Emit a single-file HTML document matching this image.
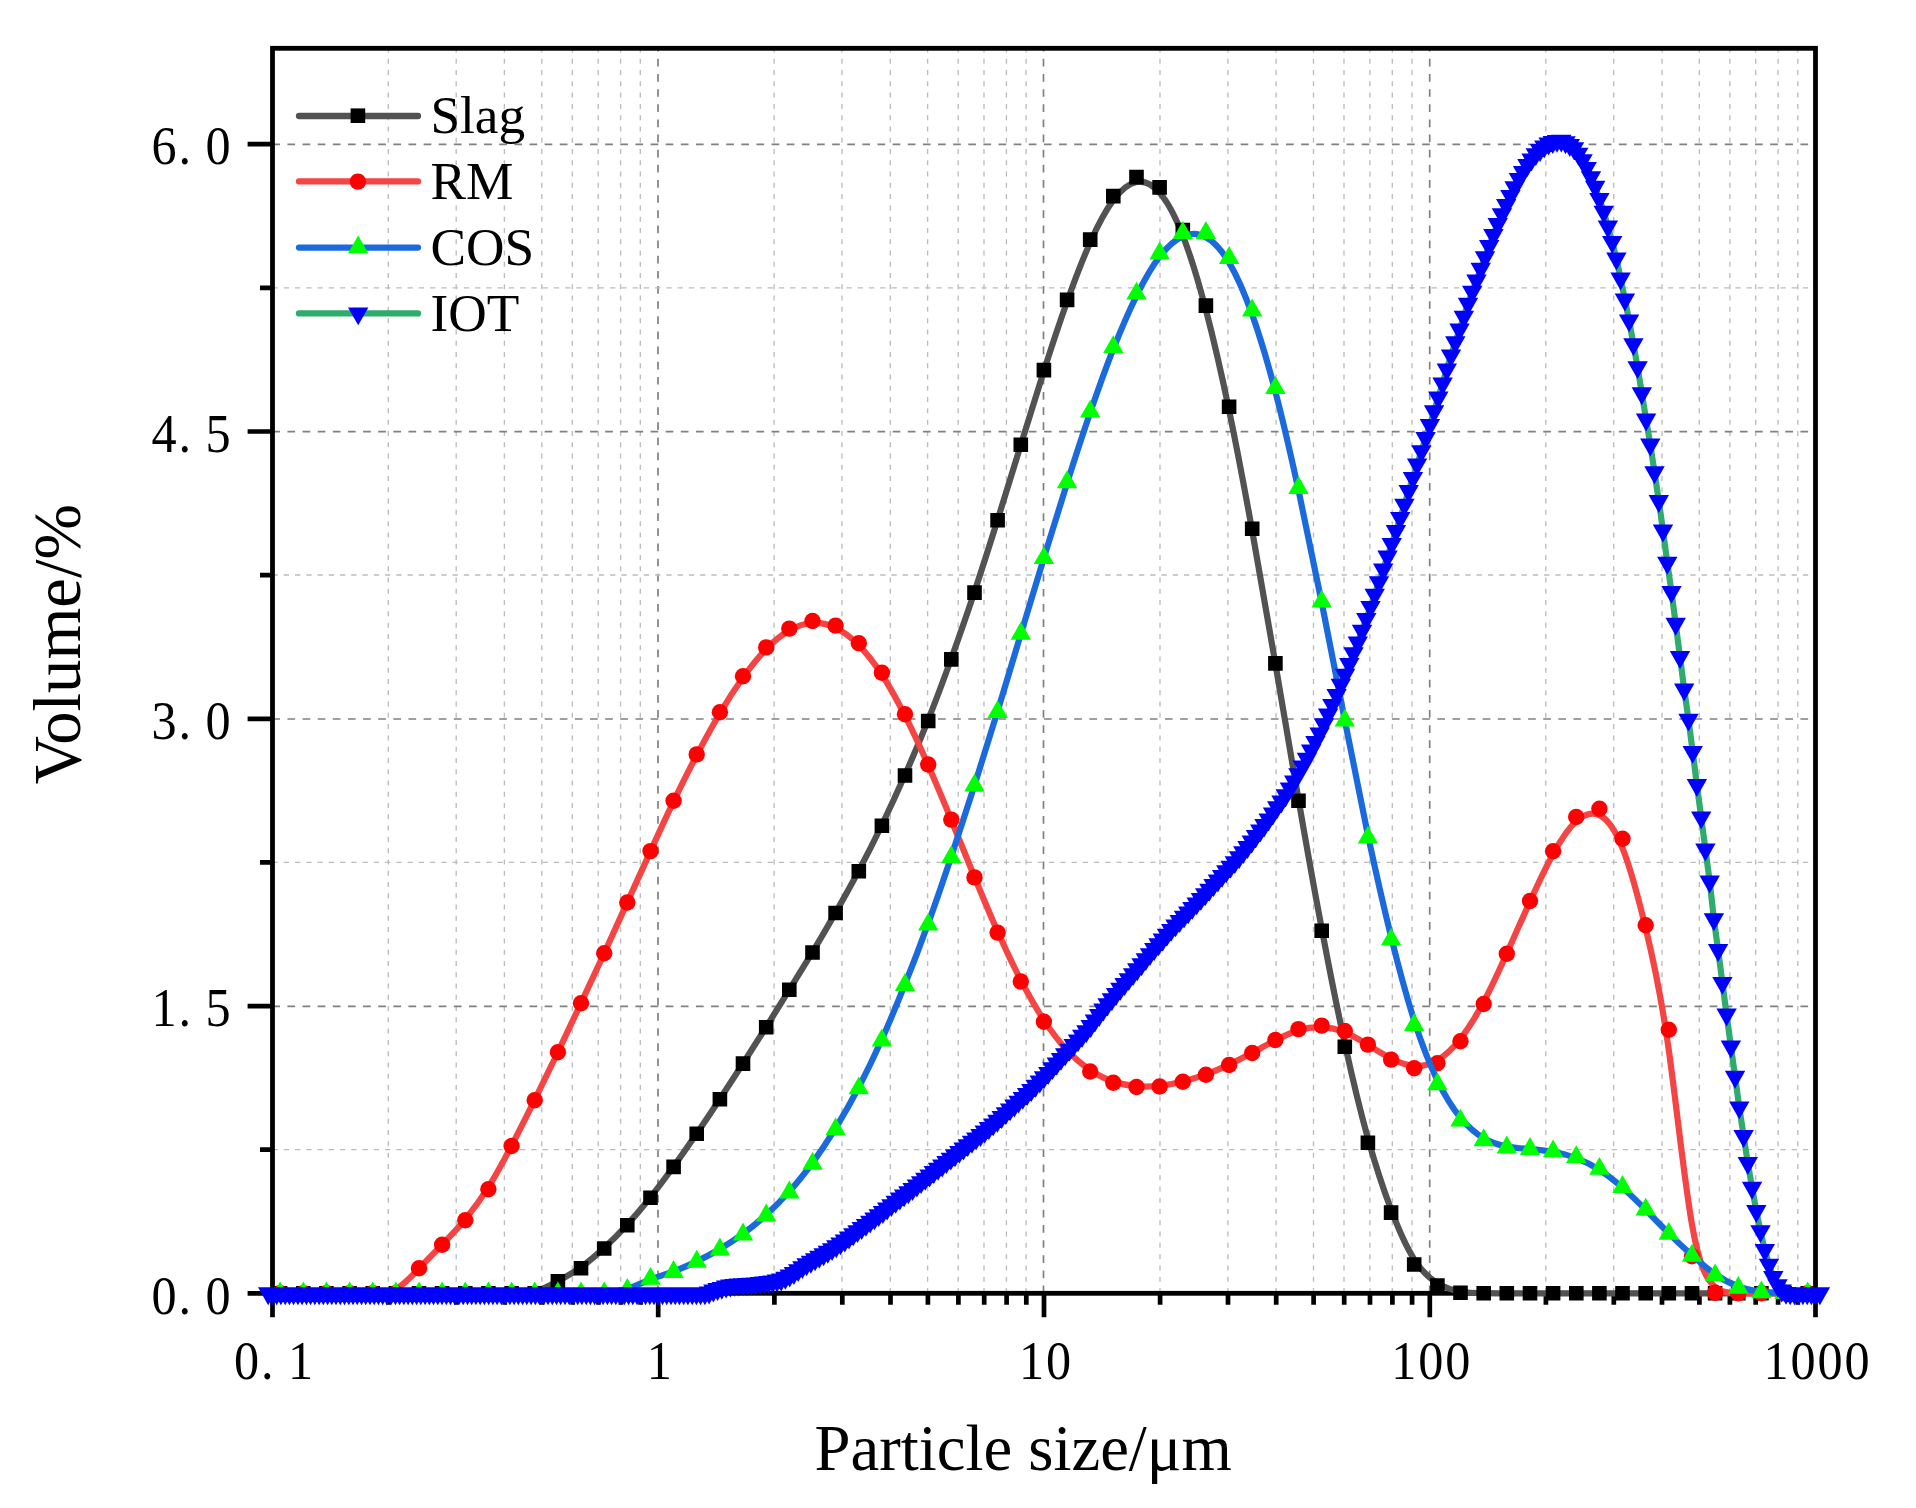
<!DOCTYPE html>
<html><head><meta charset="utf-8"><title>Particle size distribution</title>
<style>html,body{margin:0;padding:0;background:#fff}svg{display:block}text{font-family:"Liberation Serif","Times New Roman",serif;fill:#000}</style></head><body>
<svg width="1916" height="1508" viewBox="0 0 1916 1508">
<rect width="1916" height="1508" fill="#fff"/>
<g><path d="M388.3,48.3V1293.3" stroke="#bcbcbc" stroke-width="1.35" stroke-dasharray="5 6.277" stroke-dashoffset="0.8" fill="none"/><path d="M456.2,48.3V1293.3" stroke="#bcbcbc" stroke-width="1.35" stroke-dasharray="5 6.277" stroke-dashoffset="0.8" fill="none"/><path d="M504.4,48.3V1293.3" stroke="#bcbcbc" stroke-width="1.35" stroke-dasharray="5 6.277" stroke-dashoffset="0.8" fill="none"/><path d="M541.8,48.3V1293.3" stroke="#bcbcbc" stroke-width="1.35" stroke-dasharray="5 6.277" stroke-dashoffset="0.8" fill="none"/><path d="M572.3,48.3V1293.3" stroke="#bcbcbc" stroke-width="1.35" stroke-dasharray="5 6.277" stroke-dashoffset="0.8" fill="none"/><path d="M598.2,48.3V1293.3" stroke="#bcbcbc" stroke-width="1.35" stroke-dasharray="5 6.277" stroke-dashoffset="0.8" fill="none"/><path d="M620.6,48.3V1293.3" stroke="#bcbcbc" stroke-width="1.35" stroke-dasharray="5 6.277" stroke-dashoffset="0.8" fill="none"/><path d="M640.3,48.3V1293.3" stroke="#bcbcbc" stroke-width="1.35" stroke-dasharray="5 6.277" stroke-dashoffset="0.8" fill="none"/><path d="M774.1,48.3V1293.3" stroke="#bcbcbc" stroke-width="1.35" stroke-dasharray="5 6.277" stroke-dashoffset="0.8" fill="none"/><path d="M842,48.3V1293.3" stroke="#bcbcbc" stroke-width="1.35" stroke-dasharray="5 6.277" stroke-dashoffset="0.8" fill="none"/><path d="M890.3,48.3V1293.3" stroke="#bcbcbc" stroke-width="1.35" stroke-dasharray="5 6.277" stroke-dashoffset="0.8" fill="none"/><path d="M927.6,48.3V1293.3" stroke="#bcbcbc" stroke-width="1.35" stroke-dasharray="5 6.277" stroke-dashoffset="0.8" fill="none"/><path d="M958.2,48.3V1293.3" stroke="#bcbcbc" stroke-width="1.35" stroke-dasharray="5 6.277" stroke-dashoffset="0.8" fill="none"/><path d="M984,48.3V1293.3" stroke="#bcbcbc" stroke-width="1.35" stroke-dasharray="5 6.277" stroke-dashoffset="0.8" fill="none"/><path d="M1006.4,48.3V1293.3" stroke="#bcbcbc" stroke-width="1.35" stroke-dasharray="5 6.277" stroke-dashoffset="0.8" fill="none"/><path d="M1026.1,48.3V1293.3" stroke="#bcbcbc" stroke-width="1.35" stroke-dasharray="5 6.277" stroke-dashoffset="0.8" fill="none"/><path d="M1160,48.3V1293.3" stroke="#bcbcbc" stroke-width="1.35" stroke-dasharray="5 6.277" stroke-dashoffset="0.8" fill="none"/><path d="M1227.9,48.3V1293.3" stroke="#bcbcbc" stroke-width="1.35" stroke-dasharray="5 6.277" stroke-dashoffset="0.8" fill="none"/><path d="M1276.1,48.3V1293.3" stroke="#bcbcbc" stroke-width="1.35" stroke-dasharray="5 6.277" stroke-dashoffset="0.8" fill="none"/><path d="M1313.5,48.3V1293.3" stroke="#bcbcbc" stroke-width="1.35" stroke-dasharray="5 6.277" stroke-dashoffset="0.8" fill="none"/><path d="M1344,48.3V1293.3" stroke="#bcbcbc" stroke-width="1.35" stroke-dasharray="5 6.277" stroke-dashoffset="0.8" fill="none"/><path d="M1369.9,48.3V1293.3" stroke="#bcbcbc" stroke-width="1.35" stroke-dasharray="5 6.277" stroke-dashoffset="0.8" fill="none"/><path d="M1392.3,48.3V1293.3" stroke="#bcbcbc" stroke-width="1.35" stroke-dasharray="5 6.277" stroke-dashoffset="0.8" fill="none"/><path d="M1412,48.3V1293.3" stroke="#bcbcbc" stroke-width="1.35" stroke-dasharray="5 6.277" stroke-dashoffset="0.8" fill="none"/><path d="M1545.8,48.3V1293.3" stroke="#bcbcbc" stroke-width="1.35" stroke-dasharray="5 6.277" stroke-dashoffset="0.8" fill="none"/><path d="M1613.7,48.3V1293.3" stroke="#bcbcbc" stroke-width="1.35" stroke-dasharray="5 6.277" stroke-dashoffset="0.8" fill="none"/><path d="M1662,48.3V1293.3" stroke="#bcbcbc" stroke-width="1.35" stroke-dasharray="5 6.277" stroke-dashoffset="0.8" fill="none"/><path d="M1699.3,48.3V1293.3" stroke="#bcbcbc" stroke-width="1.35" stroke-dasharray="5 6.277" stroke-dashoffset="0.8" fill="none"/><path d="M1729.9,48.3V1293.3" stroke="#bcbcbc" stroke-width="1.35" stroke-dasharray="5 6.277" stroke-dashoffset="0.8" fill="none"/><path d="M1755.7,48.3V1293.3" stroke="#bcbcbc" stroke-width="1.35" stroke-dasharray="5 6.277" stroke-dashoffset="0.8" fill="none"/><path d="M1778.1,48.3V1293.3" stroke="#bcbcbc" stroke-width="1.35" stroke-dasharray="5 6.277" stroke-dashoffset="0.8" fill="none"/><path d="M1797.8,48.3V1293.3" stroke="#bcbcbc" stroke-width="1.35" stroke-dasharray="5 6.277" stroke-dashoffset="0.8" fill="none"/><path d="M658,48.3V1293.3" stroke="#808080" stroke-width="1.7" stroke-dasharray="7.7 7.445" stroke-dashoffset="4.6" fill="none"/><path d="M1043.5,48.3V1293.3" stroke="#808080" stroke-width="1.7" stroke-dasharray="7.7 7.445" stroke-dashoffset="4.6" fill="none"/><path d="M1429.7,48.3V1293.3" stroke="#808080" stroke-width="1.7" stroke-dasharray="7.7 7.445" stroke-dashoffset="4.6" fill="none"/><path d="M272.5,1149.6H1815.5" stroke="#bcbcbc" stroke-width="1.35" stroke-dasharray="5.3 5.953" fill="none"/><path d="M272.5,862.3H1815.5" stroke="#bcbcbc" stroke-width="1.35" stroke-dasharray="5.3 5.953" fill="none"/><path d="M272.5,575H1815.5" stroke="#bcbcbc" stroke-width="1.35" stroke-dasharray="5.3 5.953" fill="none"/><path d="M272.5,287.8H1815.5" stroke="#bcbcbc" stroke-width="1.35" stroke-dasharray="5.3 5.953" fill="none"/><path d="M272.3,1006.3H1815.5" stroke="#808080" stroke-width="1.7" stroke-dasharray="7.7 7.43" fill="none"/><path d="M272.3,719H1815.5" stroke="#808080" stroke-width="1.7" stroke-dasharray="7.7 7.43" fill="none"/><path d="M272.3,431.7H1815.5" stroke="#808080" stroke-width="1.7" stroke-dasharray="7.7 7.43" fill="none"/><path d="M272.3,144.4H1815.5" stroke="#808080" stroke-width="1.7" stroke-dasharray="7.7 7.43" fill="none"/></g>
<g><rect x="272.5" y="48.3" width="1543" height="1245" fill="none" stroke="#000" stroke-width="4.8"/><path d="M247.6,1293.4H272.5M247.6,1006.1H272.5M247.6,718.8H272.5M247.6,431.5H272.5M247.6,144.2H272.5M260,1149.7H272.5M260,862.4H272.5M260,575.1H272.5M260,287.9H272.5M272.5,1293.3V1317.3M658.2,1293.3V1317.3M1044,1293.3V1317.3M1429.8,1293.3V1317.3M1815.5,1293.3V1317.3M388.6,1293.3V1304.7M456.5,1293.3V1304.7M504.7,1293.3V1304.7M542.1,1293.3V1304.7M572.7,1293.3V1304.7M598.5,1293.3V1304.7M620.9,1293.3V1304.7M640.6,1293.3V1304.7M774.4,1293.3V1304.7M842.3,1293.3V1304.7M890.5,1293.3V1304.7M927.9,1293.3V1304.7M958.4,1293.3V1304.7M984.2,1293.3V1304.7M1006.6,1293.3V1304.7M1026.3,1293.3V1304.7M1160.1,1293.3V1304.7M1228,1293.3V1304.7M1276.2,1293.3V1304.7M1313.6,1293.3V1304.7M1344.2,1293.3V1304.7M1370,1293.3V1304.7M1392.4,1293.3V1304.7M1412.1,1293.3V1304.7M1545.9,1293.3V1304.7M1613.8,1293.3V1304.7M1662,1293.3V1304.7M1699.4,1293.3V1304.7M1729.9,1293.3V1304.7M1755.7,1293.3V1304.7M1778.1,1293.3V1304.7M1797.8,1293.3V1304.7" stroke="#000" stroke-width="4.7" fill="none"/></g>
<path d="M280.1,1293.3C280.1,1293.3 280.1,1293.3 284,1293.3C287.8,1293.3 295.6,1293.3 303.3,1293.3C311,1293.3 318.7,1293.3 326.4,1293.3C334.1,1293.3 341.9,1293.3 349.6,1293.3C357.3,1293.3 365,1293.3 372.7,1293.3C380.4,1293.3 388.1,1293.3 395.9,1293.3C403.6,1293.3 411.3,1293.3 419,1293.3C426.7,1293.3 434.4,1293.3 442.1,1293.3C449.9,1293.3 457.6,1293.3 465.3,1293.3C473,1293.3 480.7,1293.3 488.4,1293.3C496.1,1293.3 503.9,1293.3 511.6,1293.3C519.3,1293.3 527,1293.3 534.7,1291.3C542.4,1289.3 550.2,1285.4 557.9,1281.2C565.6,1277 573.3,1272.7 581,1267.2C588.7,1261.7 596.4,1255.1 604.2,1247.9C611.9,1240.8 619.6,1233 627.3,1224.6C635,1216.1 642.7,1207 650.5,1197.2C658.2,1187.5 665.9,1177.2 673.6,1166.5C681.3,1155.9 689,1144.8 696.7,1133.5C704.5,1122.3 712.2,1110.7 719.9,1099C727.6,1087.3 735.3,1075.5 743,1063.5C750.7,1051.5 758.5,1039.3 766.2,1027C773.9,1014.7 781.6,1002.2 789.3,989.8C797,977.3 804.7,964.9 812.5,952.1C820.2,939.3 827.9,926.2 835.6,912.6C843.3,899.1 851,885.2 858.8,870.7C866.5,856.1 874.2,841 881.9,825C889.6,809 897.3,792.3 905,774.8C912.8,757.3 920.5,739.2 928.2,719.8C935.9,700.5 943.6,679.9 951.3,658.5C959,637.1 966.8,614.9 974.5,591.7C982.2,568.5 989.9,544.4 997.6,519.8C1005.3,495.1 1013.1,470 1020.8,444.9C1028.5,419.9 1036.2,395 1043.9,370.9C1051.6,346.7 1059.3,323.3 1067.1,301.5C1074.8,279.8 1082.5,259.7 1090.2,242.4C1097.9,225.1 1105.6,210.6 1113.3,200.2C1121.1,189.8 1128.8,183.4 1136.5,182C1144.2,180.5 1151.9,184 1159.6,192.8C1167.4,201.6 1175.1,215.9 1182.8,235.6C1190.5,255.3 1198.2,280.4 1205.9,309.9C1213.6,339.3 1221.4,373.1 1229.1,410.3C1236.8,447.5 1244.5,488.1 1252.2,530.9C1259.9,573.7 1267.7,618.5 1275.4,663.8C1283.1,709.2 1290.8,754.9 1298.5,799.5C1306.2,844 1313.9,887.4 1321.7,928.4C1329.4,969.4 1337.1,1008.1 1344.8,1043.4C1352.5,1078.8 1360.2,1110.7 1367.9,1138.4C1375.7,1166 1383.4,1189.3 1391.1,1209.6C1398.8,1229.9 1406.5,1247.2 1414.2,1259.3C1422,1271.5 1429.7,1278.5 1437.4,1283.2C1445.1,1287.9 1452.8,1290.4 1460.5,1291.7C1468.2,1293 1476,1293.1 1483.7,1293.2C1491.4,1293.3 1499.1,1293.3 1506.8,1293.3C1514.5,1293.3 1522.2,1293.3 1530,1293.3C1537.7,1293.3 1545.4,1293.3 1553.1,1293.3C1560.8,1293.3 1568.5,1293.3 1576.2,1293.3C1584,1293.3 1591.7,1293.3 1599.4,1293.3C1607.1,1293.3 1614.8,1293.3 1622.5,1293.3C1630.3,1293.3 1638,1293.3 1645.7,1293.3C1653.4,1293.3 1661.1,1293.3 1668.8,1293.3C1676.5,1293.3 1684.3,1293.3 1692,1293.3C1699.7,1293.3 1707.4,1293.3 1715.1,1293.3C1722.8,1293.3 1730.5,1293.3 1738.3,1293.3C1746,1293.3 1753.7,1293.3 1761.4,1293.3C1769.1,1293.3 1776.8,1293.3 1784.6,1293.3C1792.3,1293.3 1800,1293.3 1803.8,1293.3C1807.7,1293.3 1807.7,1293.3 1807.7,1293.3" fill="none" stroke="#525252" stroke-width="6.2" stroke-linejoin="round" stroke-linecap="round"/>
<path d="M272.8,1286h14.6v14.6h-14.6zM296,1286h14.6v14.6h-14.6zM319.1,1286h14.6v14.6h-14.6zM342.3,1286h14.6v14.6h-14.6zM365.4,1286h14.6v14.6h-14.6zM388.6,1286h14.6v14.6h-14.6zM411.7,1286h14.6v14.6h-14.6zM434.8,1286h14.6v14.6h-14.6zM458,1286h14.6v14.6h-14.6zM481.1,1286h14.6v14.6h-14.6zM504.3,1286h14.6v14.6h-14.6zM527.4,1286h14.6v14.6h-14.6zM550.6,1274.1h14.6v14.6h-14.6zM573.7,1261h14.6v14.6h-14.6zM596.9,1241.2h14.6v14.6h-14.6zM620,1218h14.6v14.6h-14.6zM643.2,1190.5h14.6v14.6h-14.6zM666.3,1159.6h14.6v14.6h-14.6zM689.4,1126.5h14.6v14.6h-14.6zM712.6,1091.9h14.6v14.6h-14.6zM735.7,1056.3h14.6v14.6h-14.6zM758.9,1019.9h14.6v14.6h-14.6zM782,982.4h14.6v14.6h-14.6zM805.2,945.2h14.6v14.6h-14.6zM828.3,905.7h14.6v14.6h-14.6zM851.5,864h14.6v14.6h-14.6zM874.6,818.5h14.6v14.6h-14.6zM897.7,768.2h14.6v14.6h-14.6zM920.9,713.7h14.6v14.6h-14.6zM944,652.1h14.6v14.6h-14.6zM967.2,585.3h14.6v14.6h-14.6zM990.3,513h14.6v14.6h-14.6zM1013.5,437.5h14.6v14.6h-14.6zM1036.6,362.8h14.6v14.6h-14.6zM1059.8,292.6h14.6v14.6h-14.6zM1082.9,232.3h14.6v14.6h-14.6zM1106,188.8h14.6v14.6h-14.6zM1129.2,169.8h14.6v14.6h-14.6zM1152.3,180.1h14.6v14.6h-14.6zM1175.5,222.8h14.6v14.6h-14.6zM1198.6,298.3h14.6v14.6h-14.6zM1221.8,399.5h14.6v14.6h-14.6zM1244.9,521.5h14.6v14.6h-14.6zM1268.1,656.1h14.6v14.6h-14.6zM1291.2,793.4h14.6v14.6h-14.6zM1314.4,923.4h14.6v14.6h-14.6zM1337.5,1039.5h14.6v14.6h-14.6zM1360.6,1135.4h14.6v14.6h-14.6zM1383.8,1205.3h14.6v14.6h-14.6zM1406.9,1257.2h14.6v14.6h-14.6zM1430.1,1278.2h14.6v14.6h-14.6zM1453.2,1285.5h14.6v14.6h-14.6zM1476.4,1286h14.6v14.6h-14.6zM1499.5,1286h14.6v14.6h-14.6zM1522.7,1286h14.6v14.6h-14.6zM1545.8,1286h14.6v14.6h-14.6zM1569,1286h14.6v14.6h-14.6zM1592.1,1286h14.6v14.6h-14.6zM1615.2,1286h14.6v14.6h-14.6zM1638.4,1286h14.6v14.6h-14.6zM1661.5,1286h14.6v14.6h-14.6zM1684.7,1286h14.6v14.6h-14.6zM1707.8,1286h14.6v14.6h-14.6zM1731,1286h14.6v14.6h-14.6zM1754.1,1286h14.6v14.6h-14.6zM1777.3,1286h14.6v14.6h-14.6zM1800.4,1286h14.6v14.6h-14.6z" fill="#000"/>
<path d="M280.1,1293.3C280.1,1293.3 280.1,1293.3 284,1293.3C287.8,1293.3 295.6,1293.3 303.3,1293.3C311,1293.3 318.7,1293.3 326.4,1293.3C334.1,1293.3 341.9,1293.3 349.6,1293.3C357.3,1293.3 365,1293.3 372.7,1293.3C380.4,1293.3 388.1,1293.3 395.9,1289.1C403.6,1285 411.3,1276.6 419,1268.5C426.7,1260.4 434.4,1252.6 442.1,1244.6C449.9,1236.6 457.6,1228.4 465.3,1219.2C473,1209.9 480.7,1199.6 488.4,1187.2C496.1,1174.8 503.9,1160.4 511.6,1145.6C519.3,1130.8 527,1115.5 534.7,1099.9C542.4,1084.3 550.2,1068.2 557.9,1052.1C565.6,1035.9 573.3,1019.6 581,1003.1C588.7,986.6 596.4,970 604.2,953.2C611.9,936.4 619.6,919.4 627.3,902.4C635,885.4 642.7,868.2 650.5,851.3C658.2,834.3 665.9,817.6 673.6,801.4C681.3,785.3 689,769.9 696.7,755.1C704.5,740.3 712.2,726.3 719.9,713.2C727.6,700.2 735.3,688.3 743,677.5C750.7,666.7 758.5,657 766.2,649.1C773.9,641.1 781.6,634.9 789.3,630.5C797,626.1 804.7,623.5 812.5,623C820.2,622.5 827.9,624.1 835.6,627.8C843.3,631.5 851,637.4 858.8,645.2C866.5,653.1 874.2,662.9 881.9,674.7C889.6,686.5 897.3,700.4 905,715.7C912.8,731 920.5,747.7 928.2,765.3C935.9,782.9 943.6,801.2 951.3,820C959,838.9 966.8,858.1 974.5,877C982.2,895.8 989.9,914.2 997.6,931.5C1005.3,948.9 1013.1,965.2 1020.8,980.1C1028.5,994.9 1036.2,1008.4 1043.9,1020.1C1051.6,1031.9 1059.3,1041.9 1067.1,1050.2C1074.8,1058.5 1082.5,1065 1090.2,1070.1C1097.9,1075.2 1105.6,1079 1113.3,1081.5C1121.1,1084.1 1128.8,1085.6 1136.5,1086.2C1144.2,1086.8 1151.9,1086.7 1159.6,1085.8C1167.4,1084.9 1175.1,1083.4 1182.8,1081.4C1190.5,1079.5 1198.2,1077.1 1205.9,1074.3C1213.6,1071.5 1221.4,1068.3 1229.1,1064.6C1236.8,1061 1244.5,1057 1252.2,1052.8C1259.9,1048.7 1267.7,1044.3 1275.4,1040.3C1283.1,1036.4 1290.8,1032.7 1298.5,1030.3C1306.2,1027.9 1313.9,1026.8 1321.7,1027.1C1329.4,1027.4 1337.1,1029.2 1344.8,1032.4C1352.5,1035.5 1360.2,1040.1 1367.9,1044.8C1375.7,1049.6 1383.4,1054.6 1391.1,1058.5C1398.8,1062.5 1406.5,1065.3 1414.2,1065.9C1422,1066.5 1429.7,1064.9 1437.4,1060.4C1445.1,1055.9 1452.8,1048.6 1460.5,1038.7C1468.2,1028.9 1476,1016.4 1483.7,1001.8C1491.4,987.3 1499.1,970.5 1506.8,953.4C1514.5,936.2 1522.2,918.6 1530,901.5C1537.7,884.4 1545.4,867.9 1553.1,853.9C1560.8,839.9 1568.5,828.4 1576.2,821.3C1584,814.2 1591.7,811.5 1599.4,815.1C1607.1,818.7 1614.8,828.8 1622.5,848.2C1630.3,867.6 1638,896.4 1645.7,928.2C1653.4,960 1661.1,994.9 1668.8,1050C1676.5,1105.2 1684.3,1180.8 1692,1224.6C1699.7,1268.5 1707.4,1280.6 1715.1,1286.8C1722.8,1293 1730.5,1293.1 1738.3,1293.2C1746,1293.3 1753.7,1293.3 1761.4,1293.3C1769.1,1293.3 1776.8,1293.3 1784.6,1293.3C1792.3,1293.3 1800,1293.3 1803.8,1293.3C1807.7,1293.3 1807.7,1293.3 1807.7,1293.3" fill="none" stroke="#f44444" stroke-width="6.2" stroke-linejoin="round" stroke-linecap="round"/>
<g fill="#ff0000"><circle cx="280.1" cy="1293.3" r="8.2"/><circle cx="303.3" cy="1293.3" r="8.2"/><circle cx="326.4" cy="1293.3" r="8.2"/><circle cx="349.6" cy="1293.3" r="8.2"/><circle cx="372.7" cy="1293.3" r="8.2"/><circle cx="395.9" cy="1293.3" r="8.2"/><circle cx="419" cy="1268.3" r="8.2"/><circle cx="442.1" cy="1244.7" r="8.2"/><circle cx="465.3" cy="1220.3" r="8.2"/><circle cx="488.4" cy="1189.2" r="8.2"/><circle cx="511.6" cy="1146" r="8.2"/><circle cx="534.7" cy="1100.3" r="8.2"/><circle cx="557.9" cy="1052.2" r="8.2"/><circle cx="581" cy="1003.3" r="8.2"/><circle cx="604.2" cy="953.3" r="8.2"/><circle cx="627.3" cy="902.5" r="8.2"/><circle cx="650.5" cy="851.1" r="8.2"/><circle cx="673.6" cy="800.8" r="8.2"/><circle cx="696.7" cy="754.4" r="8.2"/><circle cx="719.9" cy="712.2" r="8.2"/><circle cx="743" cy="676.3" r="8.2"/><circle cx="766.2" cy="647.4" r="8.2"/><circle cx="789.3" cy="628.6" r="8.2"/><circle cx="812.5" cy="621" r="8.2"/><circle cx="835.6" cy="625.6" r="8.2"/><circle cx="858.8" cy="643.3" r="8.2"/><circle cx="881.9" cy="672.7" r="8.2"/><circle cx="905" cy="714.2" r="8.2"/><circle cx="928.2" cy="764.5" r="8.2"/><circle cx="951.3" cy="819.6" r="8.2"/><circle cx="974.5" cy="877.4" r="8.2"/><circle cx="997.6" cy="932.6" r="8.2"/><circle cx="1020.8" cy="981.5" r="8.2"/><circle cx="1043.9" cy="1021.8" r="8.2"/><circle cx="1067.1" cy="1052" r="8.2"/><circle cx="1090.2" cy="1071.5" r="8.2"/><circle cx="1113.3" cy="1082.7" r="8.2"/><circle cx="1136.5" cy="1087" r="8.2"/><circle cx="1159.6" cy="1086.5" r="8.2"/><circle cx="1182.8" cy="1081.8" r="8.2"/><circle cx="1205.9" cy="1074.8" r="8.2"/><circle cx="1229.1" cy="1065" r="8.2"/><circle cx="1252.2" cy="1053" r="8.2"/><circle cx="1275.4" cy="1040" r="8.2"/><circle cx="1298.5" cy="1029.1" r="8.2"/><circle cx="1321.7" cy="1025.6" r="8.2"/><circle cx="1344.8" cy="1031" r="8.2"/><circle cx="1367.9" cy="1044.6" r="8.2"/><circle cx="1391.1" cy="1059.6" r="8.2"/><circle cx="1414.2" cy="1068.2" r="8.2"/><circle cx="1437.4" cy="1063.2" r="8.2"/><circle cx="1460.5" cy="1041.3" r="8.2"/><circle cx="1483.7" cy="1004" r="8.2"/><circle cx="1506.8" cy="953.8" r="8.2"/><circle cx="1530" cy="901" r="8.2"/><circle cx="1553.1" cy="851.3" r="8.2"/><circle cx="1576.2" cy="817" r="8.2"/><circle cx="1599.4" cy="808.7" r="8.2"/><circle cx="1622.5" cy="838.8" r="8.2"/><circle cx="1645.7" cy="925.2" r="8.2"/><circle cx="1668.8" cy="1029.7" r="8.2"/><circle cx="1692" cy="1256.3" r="8.2"/><circle cx="1715.1" cy="1292.8" r="8.2"/><circle cx="1738.3" cy="1293.3" r="8.2"/><circle cx="1761.4" cy="1293.3" r="8.2"/><circle cx="1784.6" cy="1293.3" r="8.2"/><circle cx="1807.7" cy="1293.3" r="8.2"/></g>
<path d="M280.1,1293.3C280.1,1293.3 280.1,1293.3 284,1293.3C287.8,1293.3 295.6,1293.3 303.3,1293.3C311,1293.3 318.7,1293.3 326.4,1293.3C334.1,1293.3 341.9,1293.3 349.6,1293.3C357.3,1293.3 365,1293.3 372.7,1293.3C380.4,1293.3 388.1,1293.3 395.9,1293.3C403.6,1293.3 411.3,1293.3 419,1293.3C426.7,1293.3 434.4,1293.3 442.1,1293.3C449.9,1293.3 457.6,1293.3 465.3,1293.3C473,1293.3 480.7,1293.3 488.4,1293.3C496.1,1293.3 503.9,1293.3 511.6,1293.3C519.3,1293.3 527,1293.3 534.7,1293.3C542.4,1293.3 550.2,1293.3 557.9,1293.3C565.6,1293.3 573.3,1293.3 581,1293.3C588.7,1293.3 596.4,1293.3 604.2,1292.8C611.9,1292.2 619.6,1291.1 627.3,1288.7C635,1286.3 642.7,1282.5 650.5,1279.5C658.2,1276.5 665.9,1274.3 673.6,1271.4C681.3,1268.6 689,1265.1 696.7,1261.4C704.5,1257.6 712.2,1253.6 719.9,1249C727.6,1244.5 735.3,1239.5 743,1233.8C750.7,1228.2 758.5,1221.8 766.2,1214.8C773.9,1207.8 781.6,1200.1 789.3,1191.5C797,1182.9 804.7,1173.3 812.5,1162.8C820.2,1152.3 827.9,1140.8 835.6,1128.2C843.3,1115.6 851,1102 858.8,1087.2C866.5,1072.4 874.2,1056.4 881.9,1039.2C889.6,1022 897.3,1003.5 905,984.2C912.8,964.9 920.5,944.7 928.2,923.4C935.9,902.1 943.6,879.7 951.3,856.5C959,833.3 966.8,809.4 974.5,785.2C982.2,761 989.9,736.5 997.6,711.2C1005.3,685.9 1013.1,659.8 1020.8,634.1C1028.5,608.5 1036.2,583.3 1043.9,558C1051.6,532.8 1059.3,507.5 1067.1,483.1C1074.8,458.7 1082.5,435.1 1090.2,412.6C1097.9,390.1 1105.6,368.6 1113.3,348.9C1121.1,329.3 1128.8,311.4 1136.5,295.8C1144.2,280.2 1151.9,266.8 1159.6,256.7C1167.4,246.6 1175.1,239.8 1182.8,236.4C1190.5,233 1198.2,233 1205.9,237.2C1213.6,241.3 1221.4,249.7 1229.1,262.6C1236.8,275.5 1244.5,293 1252.2,314.6C1259.9,336.3 1267.7,362.1 1275.4,391.7C1283.1,421.3 1290.8,454.6 1298.5,490.2C1306.2,525.9 1313.9,563.7 1321.7,602.5C1329.4,641.3 1337.1,680.9 1344.8,720.3C1352.5,759.6 1360.2,798.6 1367.9,835.1C1375.7,871.6 1383.4,905.6 1391.1,936.8C1398.8,968.1 1406.5,996.5 1414.2,1020.6C1422,1044.7 1429.7,1064.5 1437.4,1080.4C1445.1,1096.3 1452.8,1108.5 1460.5,1117.8C1468.2,1127.1 1476,1133.7 1483.7,1138.2C1491.4,1142.6 1499.1,1145.1 1506.8,1146.5C1514.5,1148 1522.2,1148.4 1530,1149.1C1537.7,1149.7 1545.4,1150.5 1553.1,1151.9C1560.8,1153.2 1568.5,1155.2 1576.2,1158.1C1584,1161 1591.7,1164.9 1599.4,1169.9C1607.1,1174.8 1614.8,1180.9 1622.5,1187.7C1630.3,1194.5 1638,1202 1645.7,1209.8C1653.4,1217.7 1661.1,1225.7 1668.8,1233.4C1676.5,1241.1 1684.3,1248.4 1692,1255.3C1699.7,1262.2 1707.4,1268.8 1715.1,1274.1C1722.8,1279.5 1730.5,1283.6 1738.3,1286.5C1746,1289.3 1753.7,1290.8 1761.4,1291.7C1769.1,1292.5 1776.8,1292.8 1784.6,1292.9C1792.3,1293.1 1800,1293.2 1803.8,1293.2C1807.7,1293.3 1807.7,1293.3 1807.7,1293.3" fill="none" stroke="#1a6ade" stroke-width="6.2" stroke-linejoin="round" stroke-linecap="round"/>
<path d="M280.1,1281.4L290.3,1299.3L269.9,1299.3zM303.3,1281.4L313.5,1299.3L293.1,1299.3zM326.4,1281.4L336.6,1299.3L316.2,1299.3zM349.6,1281.4L359.8,1299.3L339.4,1299.3zM372.7,1281.4L382.9,1299.3L362.5,1299.3zM395.9,1281.4L406.1,1299.3L385.7,1299.3zM419,1281.4L429.2,1299.3L408.8,1299.3zM442.1,1281.4L452.3,1299.3L431.9,1299.3zM465.3,1281.4L475.5,1299.3L455.1,1299.3zM488.4,1281.4L498.6,1299.3L478.2,1299.3zM511.6,1281.4L521.8,1299.3L501.4,1299.3zM534.7,1281.4L544.9,1299.3L524.5,1299.3zM557.9,1281.4L568.1,1299.3L547.7,1299.3zM581,1281.4L591.2,1299.3L570.8,1299.3zM604.2,1281.4L614.4,1299.3L594,1299.3zM627.3,1278.1L637.5,1296L617.1,1296zM650.5,1266.9L660.7,1284.8L640.2,1284.8zM673.6,1260.1L683.8,1278L663.4,1278zM696.7,1249.8L706.9,1267.7L686.5,1267.7zM719.9,1237.6L730.1,1255.5L709.7,1255.5zM743,1222.6L753.2,1240.5L732.8,1240.5zM766.2,1203.6L776.4,1221.5L756,1221.5zM789.3,1180.5L799.5,1198.4L779.1,1198.4zM812.5,1151.9L822.7,1169.8L802.3,1169.8zM835.6,1117.4L845.8,1135.3L825.4,1135.3zM858.8,1076.4L869,1094.3L848.6,1094.3zM881.9,1028.6L892.1,1046.5L871.7,1046.5zM905,973.1L915.2,991L894.8,991zM928.2,912.7L938.4,930.6L918,930.6zM951.3,845.3L961.5,863.2L941.1,863.2zM974.5,773.6L984.7,791.5L964.3,791.5zM997.6,700.1L1007.8,718L987.4,718zM1020.8,621.8L1031,639.7L1010.6,639.7zM1043.9,546.2L1054.1,564.1L1033.7,564.1zM1067.1,470.3L1077.3,488.2L1056.9,488.2zM1090.2,399.7L1100.4,417.6L1080,417.6zM1113.3,335.2L1123.5,353.1L1103.1,353.1zM1136.5,281.7L1146.7,299.6L1126.3,299.6zM1159.6,241.5L1169.8,259.4L1149.4,259.4zM1182.8,221.1L1193,239L1172.6,239zM1205.9,221.1L1216.1,239L1195.7,239zM1229.1,246.1L1239.3,264L1218.9,264zM1252.2,298.6L1262.4,316.5L1242,316.5zM1275.4,376L1285.6,393.9L1265.2,393.9zM1298.5,476.1L1308.7,494L1288.3,494zM1321.7,589.7L1331.9,607.6L1311.5,607.6zM1344.8,708.7L1355,726.6L1334.6,726.6zM1367.9,825.7L1378.1,843.6L1357.7,843.6zM1391.1,927.7L1401.3,945.6L1380.9,945.6zM1414.2,1013.1L1424.4,1031L1404,1031zM1437.4,1072.3L1447.6,1090.2L1427.2,1090.2zM1460.5,1108.7L1470.7,1126.6L1450.3,1126.6zM1483.7,1128.3L1493.9,1146.2L1473.5,1146.2zM1506.8,1135.6L1517,1153.5L1496.6,1153.5zM1530,1137L1540.2,1154.9L1519.8,1154.9zM1553.1,1139.4L1563.3,1157.3L1542.9,1157.3zM1576.2,1145.2L1586.5,1163.1L1566,1163.1zM1599.4,1156.9L1609.6,1174.8L1589.2,1174.8zM1622.5,1175L1632.7,1192.9L1612.3,1192.9zM1645.7,1197.7L1655.9,1215.6L1635.5,1215.6zM1668.8,1221.9L1679,1239.8L1658.6,1239.8zM1692,1243.8L1702.2,1261.7L1681.8,1261.7zM1715.1,1263.4L1725.3,1281.3L1704.9,1281.3zM1738.3,1275.9L1748.5,1293.8L1728.1,1293.8zM1761.4,1280.4L1771.6,1298.3L1751.2,1298.3zM1784.6,1281.1L1794.8,1299L1774.4,1299zM1807.7,1281.4L1817.9,1299.3L1797.5,1299.3z" fill="#00ff00"/>
<path d="M268.2,1293.3L272.4,1293.3L276.7,1293.3L280.9,1293.3L285.2,1293.3L289.4,1293.3L293.6,1293.3L297.9,1293.3L302.1,1293.3L306.4,1293.3L310.6,1293.3L314.8,1293.3L319.1,1293.3L323.3,1293.3L327.6,1293.3L331.8,1293.3L336,1293.3L340.3,1293.3L344.5,1293.3L348.8,1293.3L353,1293.3L357.2,1293.3L361.5,1293.3L365.7,1293.3L370,1293.3L374.2,1293.3L378.4,1293.3L382.7,1293.3L386.9,1293.3L391.1,1293.3L395.4,1293.3L399.6,1293.3L403.9,1293.3L408.1,1293.3L412.3,1293.3L416.6,1293.3L420.8,1293.3L425.1,1293.3L429.3,1293.3L433.5,1293.3L437.8,1293.3L442,1293.3L446.3,1293.3L450.5,1293.3L454.7,1293.3L459,1293.3L463.2,1293.3L467.5,1293.3L471.7,1293.3L475.9,1293.3L480.2,1293.3L484.4,1293.3L488.7,1293.3L492.9,1293.3L497.1,1293.3L501.4,1293.3L505.6,1293.3L509.9,1293.3L514.1,1293.3L518.3,1293.3L522.6,1293.3L526.8,1293.3L531.1,1293.3L535.3,1293.3L539.5,1293.3L543.8,1293.3L548,1293.3L552.3,1293.3L556.5,1293.3L560.7,1293.3L565,1293.3L569.2,1293.3L573.5,1293.3L577.7,1293.3L581.9,1293.3L586.2,1293.3L590.4,1293.3L594.6,1293.3L598.9,1293.3L603.1,1293.3L607.4,1293.3L611.6,1293.3L615.8,1293.3L620.1,1293.3L624.3,1293.3L628.6,1293.3L632.8,1293.3L637,1293.3L641.3,1293.3L645.5,1293.3L649.8,1293.3L654,1293.3L658.2,1293.3L662.5,1293.3L666.7,1293.3L671,1293.3L675.2,1293.3L679.4,1293.3L683.7,1293.3L687.9,1293.3L692.2,1293.3L696.4,1293.3L700.6,1293.3L704.9,1293.2L709.1,1292.5L713.4,1290.5L717.6,1289L721.8,1287.8L726.1,1286.6L730.3,1285.5L734.6,1284.8L738.8,1284.5L743,1284.3L747.3,1283.9L751.5,1283.6L755.8,1283.4L760,1282.9L764.2,1282.4L768.5,1281.9L772.7,1281.3L777,1280.6L781.2,1279.6L785.4,1277.8L789.7,1275.6L793.9,1273L798.2,1270.1L802.4,1267.2L806.6,1264.2L810.9,1261.7L815.1,1259.2L819.3,1256.8L823.6,1254.3L827.8,1251.8L832.1,1249.2L836.3,1246.3L840.5,1243.4L844.8,1240.4L849,1237.4L853.3,1234.3L857.5,1231.1L861.7,1228L866,1224.8L870.2,1221.6L874.5,1218.4L878.7,1215.2L882.9,1211.9L887.2,1208.5L891.4,1205.2L895.7,1201.8L899.9,1198.5L904.1,1195.3L908.4,1192.2L912.6,1189L916.9,1185.6L921.1,1182.2L925.3,1178.8L929.6,1175.4L933.8,1172.1L938.1,1168.8L942.3,1165.4L946.5,1162.1L950.8,1158.7L955,1155.3L959.3,1151.9L963.5,1148.5L967.7,1145.1L972,1141.8L976.2,1138.4L980.5,1135L984.7,1131.4L988.9,1127.9L993.2,1124.4L997.4,1120.8L1001.7,1117L1005.9,1113.2L1010.1,1109.4L1014.4,1105.5L1018.6,1101.7L1022.8,1097.8L1027.1,1094L1031.3,1090L1035.6,1085.7L1039.8,1081.5L1044,1077.3L1048.3,1072.8L1052.5,1068.2L1056.8,1063.5L1061,1058.9L1065.2,1054.3L1069.5,1049.6L1073.7,1045L1078,1040.3L1082.2,1035.7L1086.4,1031.1L1090.7,1026.1L1094.9,1020.6L1099.2,1015L1103.4,1009.5L1107.6,1004.3L1111.9,999.2L1116.1,994L1120.4,988.8L1124.6,984L1128.8,979.1L1133.1,974.2L1137.3,969.2L1141.6,964.2L1145.8,959.2L1150,954.1L1154.3,949.1L1158.5,944.2L1162.8,939.4L1167,934.6L1171.2,929.9L1175.5,925.4L1179.7,921L1184,916.7L1188.2,912.4L1192.4,907.9L1196.7,903.4L1200.9,898.8L1205.2,894.3L1209.4,889.7L1213.6,885.1L1217.9,880.4L1222.1,875.9L1226.3,871.3L1230.6,866.7L1234.8,862.1L1239.1,857.3L1243.3,852.2L1247.5,846.9L1251.8,841.5L1256,836L1260.3,830.6L1264.5,825L1268.7,819.4L1273,813.4L1277.2,807.1L1281.5,801.4L1285.7,795.3L1289.9,788.4L1294.2,781.5L1298.4,774.2L1302.7,766.5L1306.9,758.7L1311.1,750.5L1315.4,742L1319.6,733.6L1323.9,724.3L1328.1,714.6L1332.3,704.9L1336.6,694.9L1340.8,684.7L1345.1,674.6L1349.3,664L1353.5,653.2L1357.8,642.4L1362,630.8L1366.3,618.8L1370.5,606.9L1374.7,594.6L1379,582.2L1383.2,569.5L1387.5,556.5L1391.7,543.9L1395.9,531.1L1400.2,518L1404.4,504.7L1408.7,491L1412.9,477.8L1417.1,464.4L1421.4,451.2L1425.6,438.1L1429.9,425.1L1434.1,411.3L1438.3,397.5L1442.6,383.5L1446.8,369.4L1451,355.4L1455.3,342.3L1459.5,329.6L1463.8,316.8L1468,303.7L1472.2,291.7L1476.5,280.6L1480.7,268.8L1485,257.3L1489.2,245.9L1493.4,234.9L1497.7,223.9L1501.9,214.2L1506.2,204.9L1510.4,195.9L1514.6,187.2L1518.9,178.9L1523.1,172L1527.4,165.1L1531.6,159.4L1535.8,154.2L1540.1,150L1544.3,146.4L1548.6,143.5L1552.8,142L1557,140.9L1561.3,140.7L1565.5,142.3L1569.8,145.1L1574,148.3L1578.2,153.6L1582.5,160.2L1586.7,167.8L1591,177.2L1595.2,186.8L1599.4,198.9L1603.7,211.8L1607.9,226.5L1612.2,241.9L1616.4,258.5L1620.6,278.5L1624.9,299.5L1629.1,320.4L1633.4,344.1L1637.6,367.2L1641.8,393.3L1646.1,419.5L1650.3,444.4L1654.5,472.2L1658.8,501L1663,530.6L1667.3,562.8L1671.5,591.9L1675.7,623.8L1680,657L1684.2,689.5L1688.5,719.6L1692.7,751.9L1696.9,785L1701.2,817.3L1705.4,849.4L1709.7,881.4L1713.9,919.3L1718.1,950L1722.4,982.9L1726.6,1014.5L1730.9,1046.5L1735.1,1076.8L1739.3,1107.4L1743.6,1135.9L1747.8,1163.1L1752.1,1187.7L1756.3,1211L1760.5,1231.2L1764.8,1250.1L1769,1264.7L1773.3,1277.1L1777.5,1285.1L1781.7,1290.4L1786,1292.8L1790.2,1293.3L1794.5,1293.3L1798.7,1293.3L1802.9,1293.3L1807.2,1293.3L1811.4,1293.3L1815.7,1293.3L1819.9,1293.3" fill="none" stroke="#2fab6d" stroke-width="6.2" stroke-linejoin="round" stroke-linecap="round"/>
<path d="M258,1287.3L278.4,1287.3L268.2,1305.2zM262.2,1287.3L282.6,1287.3L272.4,1305.2zM266.5,1287.3L286.9,1287.3L276.7,1305.2zM270.7,1287.3L291.1,1287.3L280.9,1305.2zM275,1287.3L295.4,1287.3L285.2,1305.2zM279.2,1287.3L299.6,1287.3L289.4,1305.2zM283.4,1287.3L303.8,1287.3L293.6,1305.2zM287.7,1287.3L308.1,1287.3L297.9,1305.2zM291.9,1287.3L312.3,1287.3L302.1,1305.2zM296.2,1287.3L316.6,1287.3L306.4,1305.2zM300.4,1287.3L320.8,1287.3L310.6,1305.2zM304.6,1287.3L325,1287.3L314.8,1305.2zM308.9,1287.3L329.3,1287.3L319.1,1305.2zM313.1,1287.3L333.5,1287.3L323.3,1305.2zM317.4,1287.3L337.8,1287.3L327.6,1305.2zM321.6,1287.3L342,1287.3L331.8,1305.2zM325.8,1287.3L346.2,1287.3L336,1305.2zM330.1,1287.3L350.5,1287.3L340.3,1305.2zM334.3,1287.3L354.7,1287.3L344.5,1305.2zM338.6,1287.3L359,1287.3L348.8,1305.2zM342.8,1287.3L363.2,1287.3L353,1305.2zM347,1287.3L367.4,1287.3L357.2,1305.2zM351.3,1287.3L371.7,1287.3L361.5,1305.2zM355.5,1287.3L375.9,1287.3L365.7,1305.2zM359.8,1287.3L380.2,1287.3L370,1305.2zM364,1287.3L384.4,1287.3L374.2,1305.2zM368.2,1287.3L388.6,1287.3L378.4,1305.2zM372.5,1287.3L392.9,1287.3L382.7,1305.2zM376.7,1287.3L397.1,1287.3L386.9,1305.2zM380.9,1287.3L401.3,1287.3L391.1,1305.2zM385.2,1287.3L405.6,1287.3L395.4,1305.2zM389.4,1287.3L409.8,1287.3L399.6,1305.2zM393.7,1287.3L414.1,1287.3L403.9,1305.2zM397.9,1287.3L418.3,1287.3L408.1,1305.2zM402.1,1287.3L422.5,1287.3L412.3,1305.2zM406.4,1287.3L426.8,1287.3L416.6,1305.2zM410.6,1287.3L431,1287.3L420.8,1305.2zM414.9,1287.3L435.3,1287.3L425.1,1305.2zM419.1,1287.3L439.5,1287.3L429.3,1305.2zM423.3,1287.3L443.7,1287.3L433.5,1305.2zM427.6,1287.3L448,1287.3L437.8,1305.2zM431.8,1287.3L452.2,1287.3L442,1305.2zM436.1,1287.3L456.5,1287.3L446.3,1305.2zM440.3,1287.3L460.7,1287.3L450.5,1305.2zM444.5,1287.3L464.9,1287.3L454.7,1305.2zM448.8,1287.3L469.2,1287.3L459,1305.2zM453,1287.3L473.4,1287.3L463.2,1305.2zM457.3,1287.3L477.7,1287.3L467.5,1305.2zM461.5,1287.3L481.9,1287.3L471.7,1305.2zM465.7,1287.3L486.1,1287.3L475.9,1305.2zM470,1287.3L490.4,1287.3L480.2,1305.2zM474.2,1287.3L494.6,1287.3L484.4,1305.2zM478.5,1287.3L498.9,1287.3L488.7,1305.2zM482.7,1287.3L503.1,1287.3L492.9,1305.2zM486.9,1287.3L507.3,1287.3L497.1,1305.2zM491.2,1287.3L511.6,1287.3L501.4,1305.2zM495.4,1287.3L515.8,1287.3L505.6,1305.2zM499.7,1287.3L520.1,1287.3L509.9,1305.2zM503.9,1287.3L524.3,1287.3L514.1,1305.2zM508.1,1287.3L528.5,1287.3L518.3,1305.2zM512.4,1287.3L532.8,1287.3L522.6,1305.2zM516.6,1287.3L537,1287.3L526.8,1305.2zM520.9,1287.3L541.3,1287.3L531.1,1305.2zM525.1,1287.3L545.5,1287.3L535.3,1305.2zM529.3,1287.3L549.7,1287.3L539.5,1305.2zM533.6,1287.3L554,1287.3L543.8,1305.2zM537.8,1287.3L558.2,1287.3L548,1305.2zM542.1,1287.3L562.5,1287.3L552.3,1305.2zM546.3,1287.3L566.7,1287.3L556.5,1305.2zM550.5,1287.3L570.9,1287.3L560.7,1305.2zM554.8,1287.3L575.2,1287.3L565,1305.2zM559,1287.3L579.4,1287.3L569.2,1305.2zM563.3,1287.3L583.7,1287.3L573.5,1305.2zM567.5,1287.3L587.9,1287.3L577.7,1305.2zM571.7,1287.3L592.1,1287.3L581.9,1305.2zM576,1287.3L596.4,1287.3L586.2,1305.2zM580.2,1287.3L600.6,1287.3L590.4,1305.2zM584.4,1287.3L604.8,1287.3L594.6,1305.2zM588.7,1287.3L609.1,1287.3L598.9,1305.2zM592.9,1287.3L613.3,1287.3L603.1,1305.2zM597.2,1287.3L617.6,1287.3L607.4,1305.2zM601.4,1287.3L621.8,1287.3L611.6,1305.2zM605.6,1287.3L626,1287.3L615.8,1305.2zM609.9,1287.3L630.3,1287.3L620.1,1305.2zM614.1,1287.3L634.5,1287.3L624.3,1305.2zM618.4,1287.3L638.8,1287.3L628.6,1305.2zM622.6,1287.3L643,1287.3L632.8,1305.2zM626.8,1287.3L647.2,1287.3L637,1305.2zM631.1,1287.3L651.5,1287.3L641.3,1305.2zM635.3,1287.3L655.7,1287.3L645.5,1305.2zM639.6,1287.3L660,1287.3L649.8,1305.2zM643.8,1287.3L664.2,1287.3L654,1305.2zM648,1287.3L668.4,1287.3L658.2,1305.2zM652.3,1287.3L672.7,1287.3L662.5,1305.2zM656.5,1287.3L676.9,1287.3L666.7,1305.2zM660.8,1287.3L681.2,1287.3L671,1305.2zM665,1287.3L685.4,1287.3L675.2,1305.2zM669.2,1287.3L689.6,1287.3L679.4,1305.2zM673.5,1287.3L693.9,1287.3L683.7,1305.2zM677.7,1287.3L698.1,1287.3L687.9,1305.2zM682,1287.3L702.4,1287.3L692.2,1305.2zM686.2,1287.3L706.6,1287.3L696.4,1305.2zM690.4,1287.3L710.8,1287.3L700.6,1305.2zM694.7,1287.3L715.1,1287.3L704.9,1305.2zM698.9,1286.6L719.3,1286.6L709.1,1304.5zM703.2,1284.5L723.6,1284.5L713.4,1302.4zM707.4,1283.1L727.8,1283.1L717.6,1301zM711.6,1281.9L732,1281.9L721.8,1299.8zM715.9,1280.6L736.3,1280.6L726.1,1298.5zM720.1,1279.6L740.5,1279.6L730.3,1297.5zM724.4,1278.9L744.8,1278.9L734.6,1296.8zM728.6,1278.6L749,1278.6L738.8,1296.5zM732.8,1278.3L753.2,1278.3L743,1296.2zM737.1,1278L757.5,1278L747.3,1295.9zM741.3,1277.7L761.7,1277.7L751.5,1295.6zM745.6,1277.4L766,1277.4L755.8,1295.3zM749.8,1277L770.2,1277L760,1294.9zM754,1276.5L774.4,1276.5L764.2,1294.4zM758.3,1275.9L778.7,1275.9L768.5,1293.8zM762.5,1275.4L782.9,1275.4L772.7,1293.3zM766.8,1274.6L787.2,1274.6L777,1292.5zM771,1273.6L791.4,1273.6L781.2,1291.5zM775.2,1271.8L795.6,1271.8L785.4,1289.7zM779.5,1269.6L799.9,1269.6L789.7,1287.5zM783.7,1267L804.1,1267L793.9,1284.9zM788,1264.2L808.4,1264.2L798.2,1282.1zM792.2,1261.2L812.6,1261.2L802.4,1279.1zM796.4,1258.3L816.8,1258.3L806.6,1276.2zM800.7,1255.8L821.1,1255.8L810.9,1273.7zM804.9,1253.3L825.3,1253.3L815.1,1271.2zM809.1,1250.8L829.5,1250.8L819.3,1268.7zM813.4,1248.3L833.8,1248.3L823.6,1266.2zM817.6,1245.8L838,1245.8L827.8,1263.7zM821.9,1243.2L842.3,1243.2L832.1,1261.1zM826.1,1240.3L846.5,1240.3L836.3,1258.2zM830.3,1237.4L850.7,1237.4L840.5,1255.3zM834.6,1234.5L855,1234.5L844.8,1252.4zM838.8,1231.5L859.2,1231.5L849,1249.4zM843.1,1228.3L863.5,1228.3L853.3,1246.2zM847.3,1225.2L867.7,1225.2L857.5,1243.1zM851.5,1222L871.9,1222L861.7,1239.9zM855.8,1218.9L876.2,1218.9L866,1236.8zM860,1215.7L880.4,1215.7L870.2,1233.6zM864.3,1212.4L884.7,1212.4L874.5,1230.3zM868.5,1209.2L888.9,1209.2L878.7,1227.1zM872.7,1206L893.1,1206L882.9,1223.9zM877,1202.6L897.4,1202.6L887.2,1220.5zM881.2,1199.2L901.6,1199.2L891.4,1217.1zM885.5,1195.8L905.9,1195.8L895.7,1213.7zM889.7,1192.5L910.1,1192.5L899.9,1210.4zM893.9,1189.4L914.3,1189.4L904.1,1207.3zM898.2,1186.3L918.6,1186.3L908.4,1204.2zM902.4,1183L922.8,1183L912.6,1200.9zM906.7,1179.6L927.1,1179.6L916.9,1197.5zM910.9,1176.2L931.3,1176.2L921.1,1194.1zM915.1,1172.8L935.5,1172.8L925.3,1190.7zM919.4,1169.5L939.8,1169.5L929.6,1187.4zM923.6,1166.1L944,1166.1L933.8,1184zM927.9,1162.8L948.3,1162.8L938.1,1180.7zM932.1,1159.5L952.5,1159.5L942.3,1177.4zM936.3,1156.1L956.7,1156.1L946.5,1174zM940.6,1152.7L961,1152.7L950.8,1170.6zM944.8,1149.3L965.2,1149.3L955,1167.2zM949.1,1145.9L969.5,1145.9L959.3,1163.8zM953.3,1142.5L973.7,1142.5L963.5,1160.4zM957.5,1139.2L977.9,1139.2L967.7,1157.1zM961.8,1135.8L982.2,1135.8L972,1153.7zM966,1132.4L986.4,1132.4L976.2,1150.3zM970.3,1129L990.7,1129L980.5,1146.9zM974.5,1125.5L994.9,1125.5L984.7,1143.4zM978.7,1122L999.1,1122L988.9,1139.9zM983,1118.4L1003.4,1118.4L993.2,1136.3zM987.2,1114.8L1007.6,1114.8L997.4,1132.7zM991.5,1111L1011.9,1111L1001.7,1128.9zM995.7,1107.2L1016.1,1107.2L1005.9,1125.1zM999.9,1103.4L1020.3,1103.4L1010.1,1121.3zM1004.2,1099.6L1024.6,1099.6L1014.4,1117.5zM1008.4,1095.7L1028.8,1095.7L1018.6,1113.6zM1012.6,1091.9L1033,1091.9L1022.8,1109.8zM1016.9,1088L1037.3,1088L1027.1,1105.9zM1021.1,1084L1041.5,1084L1031.3,1101.9zM1025.4,1079.8L1045.8,1079.8L1035.6,1097.7zM1029.6,1075.5L1050,1075.5L1039.8,1093.4zM1033.8,1071.3L1054.2,1071.3L1044,1089.2zM1038.1,1066.9L1058.5,1066.9L1048.3,1084.8zM1042.3,1062.2L1062.7,1062.2L1052.5,1080.1zM1046.6,1057.6L1067,1057.6L1056.8,1075.5zM1050.8,1052.9L1071.2,1052.9L1061,1070.8zM1055,1048.3L1075.4,1048.3L1065.2,1066.2zM1059.3,1043.7L1079.7,1043.7L1069.5,1061.6zM1063.5,1039L1083.9,1039L1073.7,1056.9zM1067.8,1034.4L1088.2,1034.4L1078,1052.3zM1072,1029.8L1092.4,1029.8L1082.2,1047.7zM1076.2,1025.2L1096.6,1025.2L1086.4,1043.1zM1080.5,1020.1L1100.9,1020.1L1090.7,1038zM1084.7,1014.6L1105.1,1014.6L1094.9,1032.5zM1089,1009.1L1109.4,1009.1L1099.2,1027zM1093.2,1003.6L1113.6,1003.6L1103.4,1021.5zM1097.4,998.3L1117.8,998.3L1107.6,1016.2zM1101.7,993.3L1122.1,993.3L1111.9,1011.2zM1105.9,988L1126.3,988L1116.1,1005.9zM1110.2,982.8L1130.6,982.8L1120.4,1000.7zM1114.4,978L1134.8,978L1124.6,995.9zM1118.6,973.2L1139,973.2L1128.8,991.1zM1122.9,968.2L1143.3,968.2L1133.1,986.1zM1127.1,963.3L1147.5,963.3L1137.3,981.2zM1131.4,958.3L1151.8,958.3L1141.6,976.2zM1135.6,953.2L1156,953.2L1145.8,971.1zM1139.8,948.2L1160.2,948.2L1150,966.1zM1144.1,943.1L1164.5,943.1L1154.3,961zM1148.3,938.3L1168.7,938.3L1158.5,956.2zM1152.6,933.5L1173,933.5L1162.8,951.4zM1156.8,928.7L1177.2,928.7L1167,946.6zM1161,923.9L1181.4,923.9L1171.2,941.8zM1165.3,919.4L1185.7,919.4L1175.5,937.3zM1169.5,915.1L1189.9,915.1L1179.7,933zM1173.8,910.7L1194.2,910.7L1184,928.6zM1178,906.4L1198.4,906.4L1188.2,924.3zM1182.2,901.9L1202.6,901.9L1192.4,919.8zM1186.5,897.4L1206.9,897.4L1196.7,915.3zM1190.7,892.9L1211.1,892.9L1200.9,910.8zM1195,888.3L1215.4,888.3L1205.2,906.2zM1199.2,883.7L1219.6,883.7L1209.4,901.6zM1203.4,879.1L1223.8,879.1L1213.6,897zM1207.7,874.5L1228.1,874.5L1217.9,892.4zM1211.9,869.9L1232.3,869.9L1222.1,887.8zM1216.1,865.3L1236.5,865.3L1226.3,883.2zM1220.4,860.7L1240.8,860.7L1230.6,878.6zM1224.6,856.2L1245,856.2L1234.8,874.1zM1228.9,851.3L1249.3,851.3L1239.1,869.2zM1233.1,846.2L1253.5,846.2L1243.3,864.1zM1237.3,841L1257.7,841L1247.5,858.9zM1241.6,835.5L1262,835.5L1251.8,853.4zM1245.8,830.1L1266.2,830.1L1256,848zM1250.1,824.6L1270.5,824.6L1260.3,842.5zM1254.3,819L1274.7,819L1264.5,836.9zM1258.5,813.4L1278.9,813.4L1268.7,831.3zM1262.8,807.4L1283.2,807.4L1273,825.3zM1267,801.2L1287.4,801.2L1277.2,819.1zM1271.3,795.4L1291.7,795.4L1281.5,813.3zM1275.5,789.3L1295.9,789.3L1285.7,807.2zM1279.7,782.4L1300.1,782.4L1289.9,800.3zM1284,775.6L1304.4,775.6L1294.2,793.5zM1288.2,768.2L1308.6,768.2L1298.4,786.1zM1292.5,760.5L1312.9,760.5L1302.7,778.4zM1296.7,752.8L1317.1,752.8L1306.9,770.7zM1300.9,744.6L1321.3,744.6L1311.1,762.5zM1305.2,736.1L1325.6,736.1L1315.4,754zM1309.4,727.6L1329.8,727.6L1319.6,745.5zM1313.7,718.3L1334.1,718.3L1323.9,736.2zM1317.9,708.6L1338.3,708.6L1328.1,726.5zM1322.1,698.9L1342.5,698.9L1332.3,716.8zM1326.4,688.9L1346.8,688.9L1336.6,706.8zM1330.6,678.8L1351,678.8L1340.8,696.7zM1334.9,668.7L1355.3,668.7L1345.1,686.6zM1339.1,658L1359.5,658L1349.3,675.9zM1343.3,647.2L1363.7,647.2L1353.5,665.1zM1347.6,636.4L1368,636.4L1357.8,654.3zM1351.8,624.8L1372.2,624.8L1362,642.7zM1356.1,612.9L1376.5,612.9L1366.3,630.8zM1360.3,600.9L1380.7,600.9L1370.5,618.8zM1364.5,588.7L1384.9,588.7L1374.7,606.6zM1368.8,576.3L1389.2,576.3L1379,594.2zM1373,563.5L1393.4,563.5L1383.2,581.4zM1377.3,550.5L1397.7,550.5L1387.5,568.4zM1381.5,537.9L1401.9,537.9L1391.7,555.8zM1385.7,525.1L1406.1,525.1L1395.9,543zM1390,512.1L1410.4,512.1L1400.2,530zM1394.2,498.7L1414.6,498.7L1404.4,516.6zM1398.5,485.1L1418.9,485.1L1408.7,503zM1402.7,471.9L1423.1,471.9L1412.9,489.8zM1406.9,458.4L1427.3,458.4L1417.1,476.3zM1411.2,445.2L1431.6,445.2L1421.4,463.1zM1415.4,432.1L1435.8,432.1L1425.6,450zM1419.7,419.1L1440.1,419.1L1429.9,437zM1423.9,405.3L1444.3,405.3L1434.1,423.2zM1428.1,391.5L1448.5,391.5L1438.3,409.4zM1432.4,377.5L1452.8,377.5L1442.6,395.4zM1436.6,363.4L1457,363.4L1446.8,381.3zM1440.8,349.4L1461.2,349.4L1451,367.3zM1445.1,336.3L1465.5,336.3L1455.3,354.2zM1449.3,323.6L1469.7,323.6L1459.5,341.5zM1453.6,310.8L1474,310.8L1463.8,328.7zM1457.8,297.8L1478.2,297.8L1468,315.7zM1462,285.7L1482.4,285.7L1472.2,303.6zM1466.3,274.6L1486.7,274.6L1476.5,292.5zM1470.5,262.8L1490.9,262.8L1480.7,280.7zM1474.8,251.3L1495.2,251.3L1485,269.2zM1479,240L1499.4,240L1489.2,257.9zM1483.2,229L1503.6,229L1493.4,246.9zM1487.5,218L1507.9,218L1497.7,235.9zM1491.7,208.2L1512.1,208.2L1501.9,226.1zM1496,199L1516.4,199L1506.2,216.9zM1500.2,189.9L1520.6,189.9L1510.4,207.8zM1504.4,181.3L1524.8,181.3L1514.6,199.2zM1508.7,172.9L1529.1,172.9L1518.9,190.8zM1512.9,166L1533.3,166L1523.1,183.9zM1517.2,159.1L1537.6,159.1L1527.4,177zM1521.4,153.4L1541.8,153.4L1531.6,171.3zM1525.6,148.2L1546,148.2L1535.8,166.1zM1529.9,144L1550.3,144L1540.1,161.9zM1534.1,140.4L1554.5,140.4L1544.3,158.3zM1538.4,137.6L1558.8,137.6L1548.6,155.5zM1542.6,136L1563,136L1552.8,153.9zM1546.8,134.9L1567.2,134.9L1557,152.8zM1551.1,134.7L1571.5,134.7L1561.3,152.6zM1555.3,136.3L1575.7,136.3L1565.5,154.2zM1559.6,139.1L1580,139.1L1569.8,157zM1563.8,142.3L1584.2,142.3L1574,160.2zM1568,147.7L1588.4,147.7L1578.2,165.6zM1572.3,154.3L1592.7,154.3L1582.5,172.2zM1576.5,161.9L1596.9,161.9L1586.7,179.8zM1580.8,171.2L1601.2,171.2L1591,189.1zM1585,180.8L1605.4,180.8L1595.2,198.7zM1589.2,192.9L1609.6,192.9L1599.4,210.8zM1593.5,205.8L1613.9,205.8L1603.7,223.7zM1597.7,220.5L1618.1,220.5L1607.9,238.4zM1602,235.9L1622.4,235.9L1612.2,253.8zM1606.2,252.5L1626.6,252.5L1616.4,270.4zM1610.4,272.5L1630.8,272.5L1620.6,290.4zM1614.7,293.6L1635.1,293.6L1624.9,311.5zM1618.9,314.4L1639.3,314.4L1629.1,332.3zM1623.2,338.2L1643.6,338.2L1633.4,356.1zM1627.4,361.2L1647.8,361.2L1637.6,379.1zM1631.6,387.3L1652,387.3L1641.8,405.2zM1635.9,413.5L1656.3,413.5L1646.1,431.4zM1640.1,438.5L1660.5,438.5L1650.3,456.4zM1644.3,466.3L1664.7,466.3L1654.5,484.2zM1648.6,495.1L1669,495.1L1658.8,513zM1652.8,524.6L1673.2,524.6L1663,542.5zM1657.1,556.8L1677.5,556.8L1667.3,574.7zM1661.3,585.9L1681.7,585.9L1671.5,603.8zM1665.5,617.8L1685.9,617.8L1675.7,635.7zM1669.8,651L1690.2,651L1680,668.9zM1674,683.5L1694.4,683.5L1684.2,701.4zM1678.3,713.7L1698.7,713.7L1688.5,731.6zM1682.5,745.9L1702.9,745.9L1692.7,763.8zM1686.7,779.1L1707.1,779.1L1696.9,797zM1691,811.4L1711.4,811.4L1701.2,829.3zM1695.2,843.5L1715.6,843.5L1705.4,861.4zM1699.5,875.5L1719.9,875.5L1709.7,893.4zM1703.7,913.3L1724.1,913.3L1713.9,931.2zM1707.9,944.1L1728.3,944.1L1718.1,962zM1712.2,976.9L1732.6,976.9L1722.4,994.8zM1716.4,1008.5L1736.8,1008.5L1726.6,1026.4zM1720.7,1040.5L1741.1,1040.5L1730.9,1058.4zM1724.9,1070.8L1745.3,1070.8L1735.1,1088.7zM1729.1,1101.4L1749.5,1101.4L1739.3,1119.3zM1733.4,1130L1753.8,1130L1743.6,1147.9zM1737.6,1157.1L1758,1157.1L1747.8,1175zM1741.9,1181.8L1762.3,1181.8L1752.1,1199.7zM1746.1,1205L1766.5,1205L1756.3,1222.9zM1750.3,1225.2L1770.7,1225.2L1760.5,1243.1zM1754.6,1244.1L1775,1244.1L1764.8,1262zM1758.8,1258.7L1779.2,1258.7L1769,1276.6zM1763.1,1271.1L1783.5,1271.1L1773.3,1289zM1767.3,1279.2L1787.7,1279.2L1777.5,1297.1zM1771.5,1284.5L1791.9,1284.5L1781.7,1302.4zM1775.8,1286.9L1796.2,1286.9L1786,1304.8zM1780,1287.3L1800.4,1287.3L1790.2,1305.2zM1784.3,1287.3L1804.7,1287.3L1794.5,1305.2zM1788.5,1287.3L1808.9,1287.3L1798.7,1305.2zM1792.7,1287.3L1813.1,1287.3L1802.9,1305.2zM1797,1287.3L1817.4,1287.3L1807.2,1305.2zM1801.2,1287.3L1821.6,1287.3L1811.4,1305.2zM1805.5,1287.3L1825.9,1287.3L1815.7,1305.2zM1809.7,1287.3L1830.1,1287.3L1819.9,1305.2z" fill="#0000ff"/>
<path d="M299,116H418" stroke="#525252" stroke-width="6.3" stroke-linecap="round" fill="none"/>
<path d="M299,181.4H418" stroke="#f44444" stroke-width="6.3" stroke-linecap="round" fill="none"/>
<path d="M299,247.6H418" stroke="#1a6ade" stroke-width="6.3" stroke-linecap="round" fill="none"/>
<path d="M299,313.4H418" stroke="#2fab6d" stroke-width="6.3" stroke-linecap="round" fill="none"/>
<path d="M350.6,108.4h14.6v14.6h-14.6z" fill="#000"/>
<circle cx="357.9" cy="181.6" r="8.2" fill="#ff0000"/>
<path d="M358.2,235.4L368.4,253.3L348,253.3z" fill="#00ff00"/>
<path d="M348,307.4L368.4,307.4L358.2,325.3z" fill="#0000ff"/>
<text x="430.4" y="133.1" font-size="53.3">Slag</text>
<text x="430.4" y="198.9" font-size="53.3">RM</text>
<text x="430.4" y="264.7" font-size="53.3">COS</text>
<text x="430.4" y="330.5" font-size="53.3">IOT</text>
<text transform="scale(0.93,1)" x="162.8 191.9 220.9" y="1313.7" font-size="54">0.0</text>
<text transform="scale(0.93,1)" x="162.8 191.9 220.9" y="1026.4" font-size="54">1.5</text>
<text transform="scale(0.93,1)" x="162.8 191.9 220.9" y="739.1" font-size="54">3.0</text>
<text transform="scale(0.93,1)" x="162.8 191.9 220.9" y="451.8" font-size="54">4.5</text>
<text transform="scale(0.93,1)" x="162.8 191.9 220.9" y="164.5" font-size="54">6.0</text>
<text transform="scale(0.93,1)" x="251.6 280.6 309.6" y="1378.8" font-size="54">0.1</text>
<text transform="scale(0.93,1)" x="695.4" y="1378.8" font-size="54">1</text>
<text transform="scale(0.93,1)" x="1095.6 1124.7" y="1378.8" font-size="54">10</text>
<text transform="scale(0.93,1)" x="1495.9 1524.9 1554" y="1378.8" font-size="54">100</text>
<text transform="scale(0.93,1)" x="1896.2 1925.2 1954.2 1983.3" y="1378.8" font-size="54">1000</text>
<text x="1023.2" y="1469.6" font-size="64.7" text-anchor="middle">Particle size/μm</text>
<text transform="translate(80.3,644.2) rotate(-90)" font-size="66.7" text-anchor="middle">Volume/%</text>
</svg></body></html>
